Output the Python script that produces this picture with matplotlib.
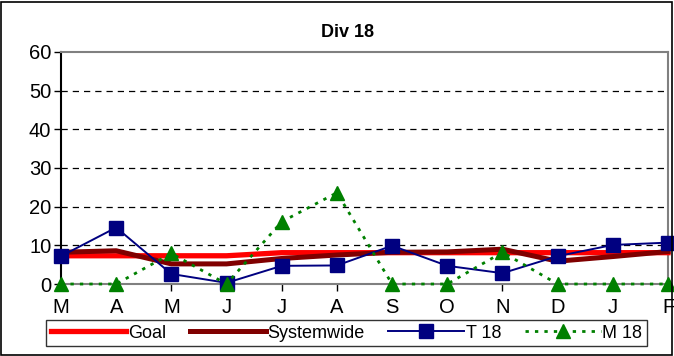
import matplotlib
matplotlib.use("Agg")
import matplotlib.pyplot as plt
from matplotlib.patches import Rectangle

plt.rcParams['font.family'] = ['Liberation Sans', 'DejaVu Sans']

months = ["M", "A", "M", "J", "J", "A", "S", "O", "N", "D", "J", "F"]
goal = [7.3, 7.3, 7.3, 7.3, 8.1, 8.1, 8.1, 8.1, 8.1, 8.1, 8.1, 8.1]
systemwide = [8.2, 8.6, 5.2, 5.2, 6.6, 7.5, 8.2, 8.3, 9.0, 5.9, 7.1, 8.4]
t18 = [7.2, 14.6, 2.6, 0.3, 4.7, 4.8, 9.9, 4.7, 2.8, 7.2, 10.1, 10.7]
m18 = [0, 0, 7.9, 0, 16.1, 23.6, 0, 0, 8.2, 0, 0, 0]
yticks = [0, 10, 20, 30, 40, 50, 60]

fig = plt.figure(figsize=(6.74, 3.56), dpi=100)
ax = fig.add_axes([0.0905, 0.2022, 0.9006, 0.652])
x = list(range(len(months)))

ax.plot(x, goal, color="#FF0000", lw=3.8, label="Goal", clip_on=False, zorder=3)
ax.plot(x, systemwide, color="#800000", lw=3.6, label="Systemwide", clip_on=False, zorder=4)
ax.plot(x, t18, color="#000080", lw=1.4, marker="s", markersize=9.5, label="T 18",
        clip_on=False, zorder=5)
ax.plot(x, m18, color="#008000", lw=2.0, ls=(0, (1.2, 2.2)), marker="^", markersize=9.5,
        label="M 18", clip_on=False, zorder=6)

ax.set_xlim(0, 11)
ax.set_ylim(0, 60)
ax.set_yticks(yticks)
ax.set_xticks(x)
ax.set_xticklabels(months)
ax.tick_params(axis="both", labelsize=14.5, length=5, color="#000000", direction="out", width=1)
ax.tick_params(axis="x", pad=5)
ax.tick_params(axis="y", pad=2)
for y in yticks[1:-1]:
    ax.axhline(y, color="black", lw=0.9, ls=(0, (5, 4)), zorder=1)

ax.spines["left"].set_color("black")
ax.spines["bottom"].set_color("#808080")
ax.spines["top"].set_color("#808080")
ax.spines["right"].set_color("#808080")
for s in ax.spines.values():
    s.set_linewidth(1.5)
fig.text(0.515, 0.91, "Div 18", fontsize=13, fontweight="bold", ha="center", va="center")

leg = fig.legend(loc="center", bbox_to_anchor=(0.514, 0.0646), ncol=4, fontsize=13,
                 frameon=True, fancybox=False, edgecolor="black", handlelength=4.2,
                 columnspacing=1.3, handletextpad=0.1, borderpad=0.25, borderaxespad=0)
leg.get_frame().set_linewidth(1.0)

fig.patches.append(Rectangle((0.002, 0.003), 0.995, 0.992, transform=fig.transFigure,
                             fill=False, edgecolor="black", lw=1.2))

fig.savefig("out.png", dpi=100)
